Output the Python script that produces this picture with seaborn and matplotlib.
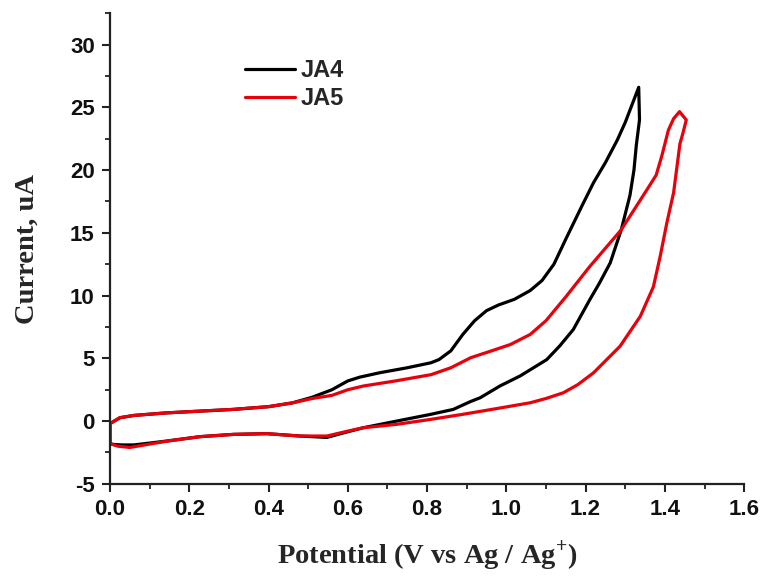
import numpy as np
import pandas as pd
import matplotlib
matplotlib.use("Agg")
import matplotlib.pyplot as plt
from matplotlib.ticker import MultipleLocator
import seaborn as sns

# ---- data ----
ja4_x = [0.0, 0.025, 0.06, 0.14, 0.23, 0.31, 0.40, 0.46, 0.51, 0.56, 0.60, 0.63, 0.68, 0.75,
         0.81, 0.83, 0.86, 0.89, 0.92, 0.95, 0.98, 1.02, 1.06, 1.09, 1.12, 1.15, 1.19, 1.22,
         1.25, 1.28, 1.30, 1.334,
         1.336, 1.328, 1.322, 1.312, 1.29, 1.262, 1.235, 1.211, 1.169, 1.135, 1.102, 1.035,
         0.984, 0.934, 0.909, 0.866, 0.808, 0.723, 0.639, 0.60, 0.547, 0.479, 0.395, 0.311,
         0.227, 0.143, 0.06, 0.03, 0.005, 0.0, 0.0]
ja4_y = [-0.2, 0.27, 0.45, 0.65, 0.8, 0.93, 1.15, 1.45, 1.9, 2.5, 3.2, 3.5, 3.85, 4.25,
         4.65, 4.9, 5.6, 6.9, 8.0, 8.8, 9.25, 9.7, 10.4, 11.2, 12.5, 14.5, 17.1, 19.0,
         20.6, 22.4, 23.8, 26.6,
         24.0, 22.0, 20.0, 18.0, 15.25, 12.6, 11.0, 9.7, 7.3, 6.0, 4.9, 3.6,
         2.8, 1.86, 1.55, 0.93, 0.53, 0.0, -0.53, -0.85, -1.3, -1.19, -1.0, -1.06,
         -1.24, -1.59, -1.9, -1.9, -1.85, -1.7, -0.2]

ja5_x = [0.0, 0.025, 0.06, 0.14, 0.23, 0.31, 0.40, 0.46, 0.51, 0.56, 0.60, 0.64, 0.72, 0.81,
         0.86, 0.91, 0.96, 1.01, 1.06, 1.10, 1.15, 1.21, 1.29, 1.354, 1.378, 1.392, 1.409,
         1.422, 1.437,
         1.454, 1.446, 1.438, 1.422, 1.405, 1.388, 1.371, 1.338, 1.287, 1.22, 1.18, 1.144,
         1.10, 1.06, 0.976, 0.892, 0.808, 0.723, 0.639, 0.60, 0.547, 0.479, 0.395, 0.311,
         0.227, 0.143, 0.05, 0.02, 0.0, 0.0]
ja5_y = [-0.2, 0.27, 0.45, 0.65, 0.8, 0.93, 1.15, 1.45, 1.8, 2.05, 2.5, 2.8, 3.2, 3.7,
         4.25, 5.05, 5.57, 6.1, 6.9, 8.0, 9.9, 12.3, 15.25, 18.4, 19.6, 21.1, 23.2,
         24.1, 24.66,
         24.0, 23.0, 22.1, 18.2, 15.8, 13.1, 10.7, 8.35, 5.97, 3.85, 2.9, 2.26,
         1.8, 1.46, 1.0, 0.55, 0.13, -0.26, -0.53, -0.8, -1.19, -1.19, -1.0, -1.06,
         -1.24, -1.6, -2.1, -2.0, -1.8, -0.2]

samples = ["JA4", "JA5"]
colors = {"JA4": "black", "JA5": "#e8000b"}
x_ticks = [0.0, 0.2, 0.4, 0.6, 0.8, 1.0, 1.2, 1.4, 1.6]
x_tick_labels = ["0.0", "0.2", "0.4", "0.6", "0.8", "1.0", "1.2", "1.4", "1.6"]

df = pd.concat([
    pd.DataFrame({"Potential": ja4_x, "Current": ja4_y, "Sample": "JA4"}),
    pd.DataFrame({"Potential": ja5_x, "Current": ja5_y, "Sample": "JA5"}),
], ignore_index=True)

sns.set_style("white")
plt.rcParams["axes.unicode_minus"] = False
plt.rcParams["mathtext.fontset"] = "custom"
plt.rcParams["mathtext.rm"] = "Liberation Serif:bold"
plt.rcParams["mathtext.bf"] = "Liberation Serif:bold"

fig = plt.figure(figsize=(7.64, 5.76), dpi=100)
ax = fig.add_axes([0.144, 0.160, 0.830, 0.817])

sns.lineplot(data=df, x="Potential", y="Current", hue="Sample", hue_order=samples,
             palette=colors, sort=False, estimator=None, linewidth=2.3, ax=ax)

ax.set_xlim(0, 1.6)
ax.set_ylim(-5, 32.5)
ax.set_xticks(x_ticks)
ax.set_xticklabels(x_tick_labels)
ax.xaxis.set_minor_locator(MultipleLocator(0.1))
ax.yaxis.set_major_locator(MultipleLocator(5))
ax.yaxis.set_minor_locator(MultipleLocator(2.5))

for side in ["top", "right"]:
    ax.spines[side].set_visible(False)
for side in ["left", "bottom"]:
    ax.spines[side].set_linewidth(1.6)
    ax.spines[side].set_color("#222222")

ax.tick_params(axis="both", which="both", bottom=True, left=True, top=False, right=False)
ax.tick_params(axis="both", which="major", direction="out", length=6, width=1.5,
               colors="#222222", labelsize=16, pad=5)
ax.tick_params(axis="both", which="minor", direction="out", length=3.5, width=1.3,
               colors="#222222")
for lab in ax.get_xticklabels() + ax.get_yticklabels():
    lab.set_fontfamily("Liberation Sans")
    lab.set_fontweight("bold")
    lab.set_color("#111111")

ax.set_xlabel(r"Potential (V vs Ag / Ag$^{+}$)", fontfamily="Liberation Serif",
              fontweight="bold", fontsize=20.5, labelpad=13)
ax.set_ylabel("Current, uA", fontfamily="Liberation Serif", fontweight="bold",
              fontsize=20.5, labelpad=22)

leg = ax.legend(loc="upper left", bbox_to_anchor=(0.213, 0.903), frameon=False,
                borderaxespad=0, borderpad=0,
                handlelength=2.1, handletextpad=0.25, labelspacing=0.22,
                prop={"family": "Liberation Sans", "weight": "bold", "size": 17})
for line in leg.get_lines():
    line.set_linewidth(2.3)

fig.savefig("out.png", dpi=100)
